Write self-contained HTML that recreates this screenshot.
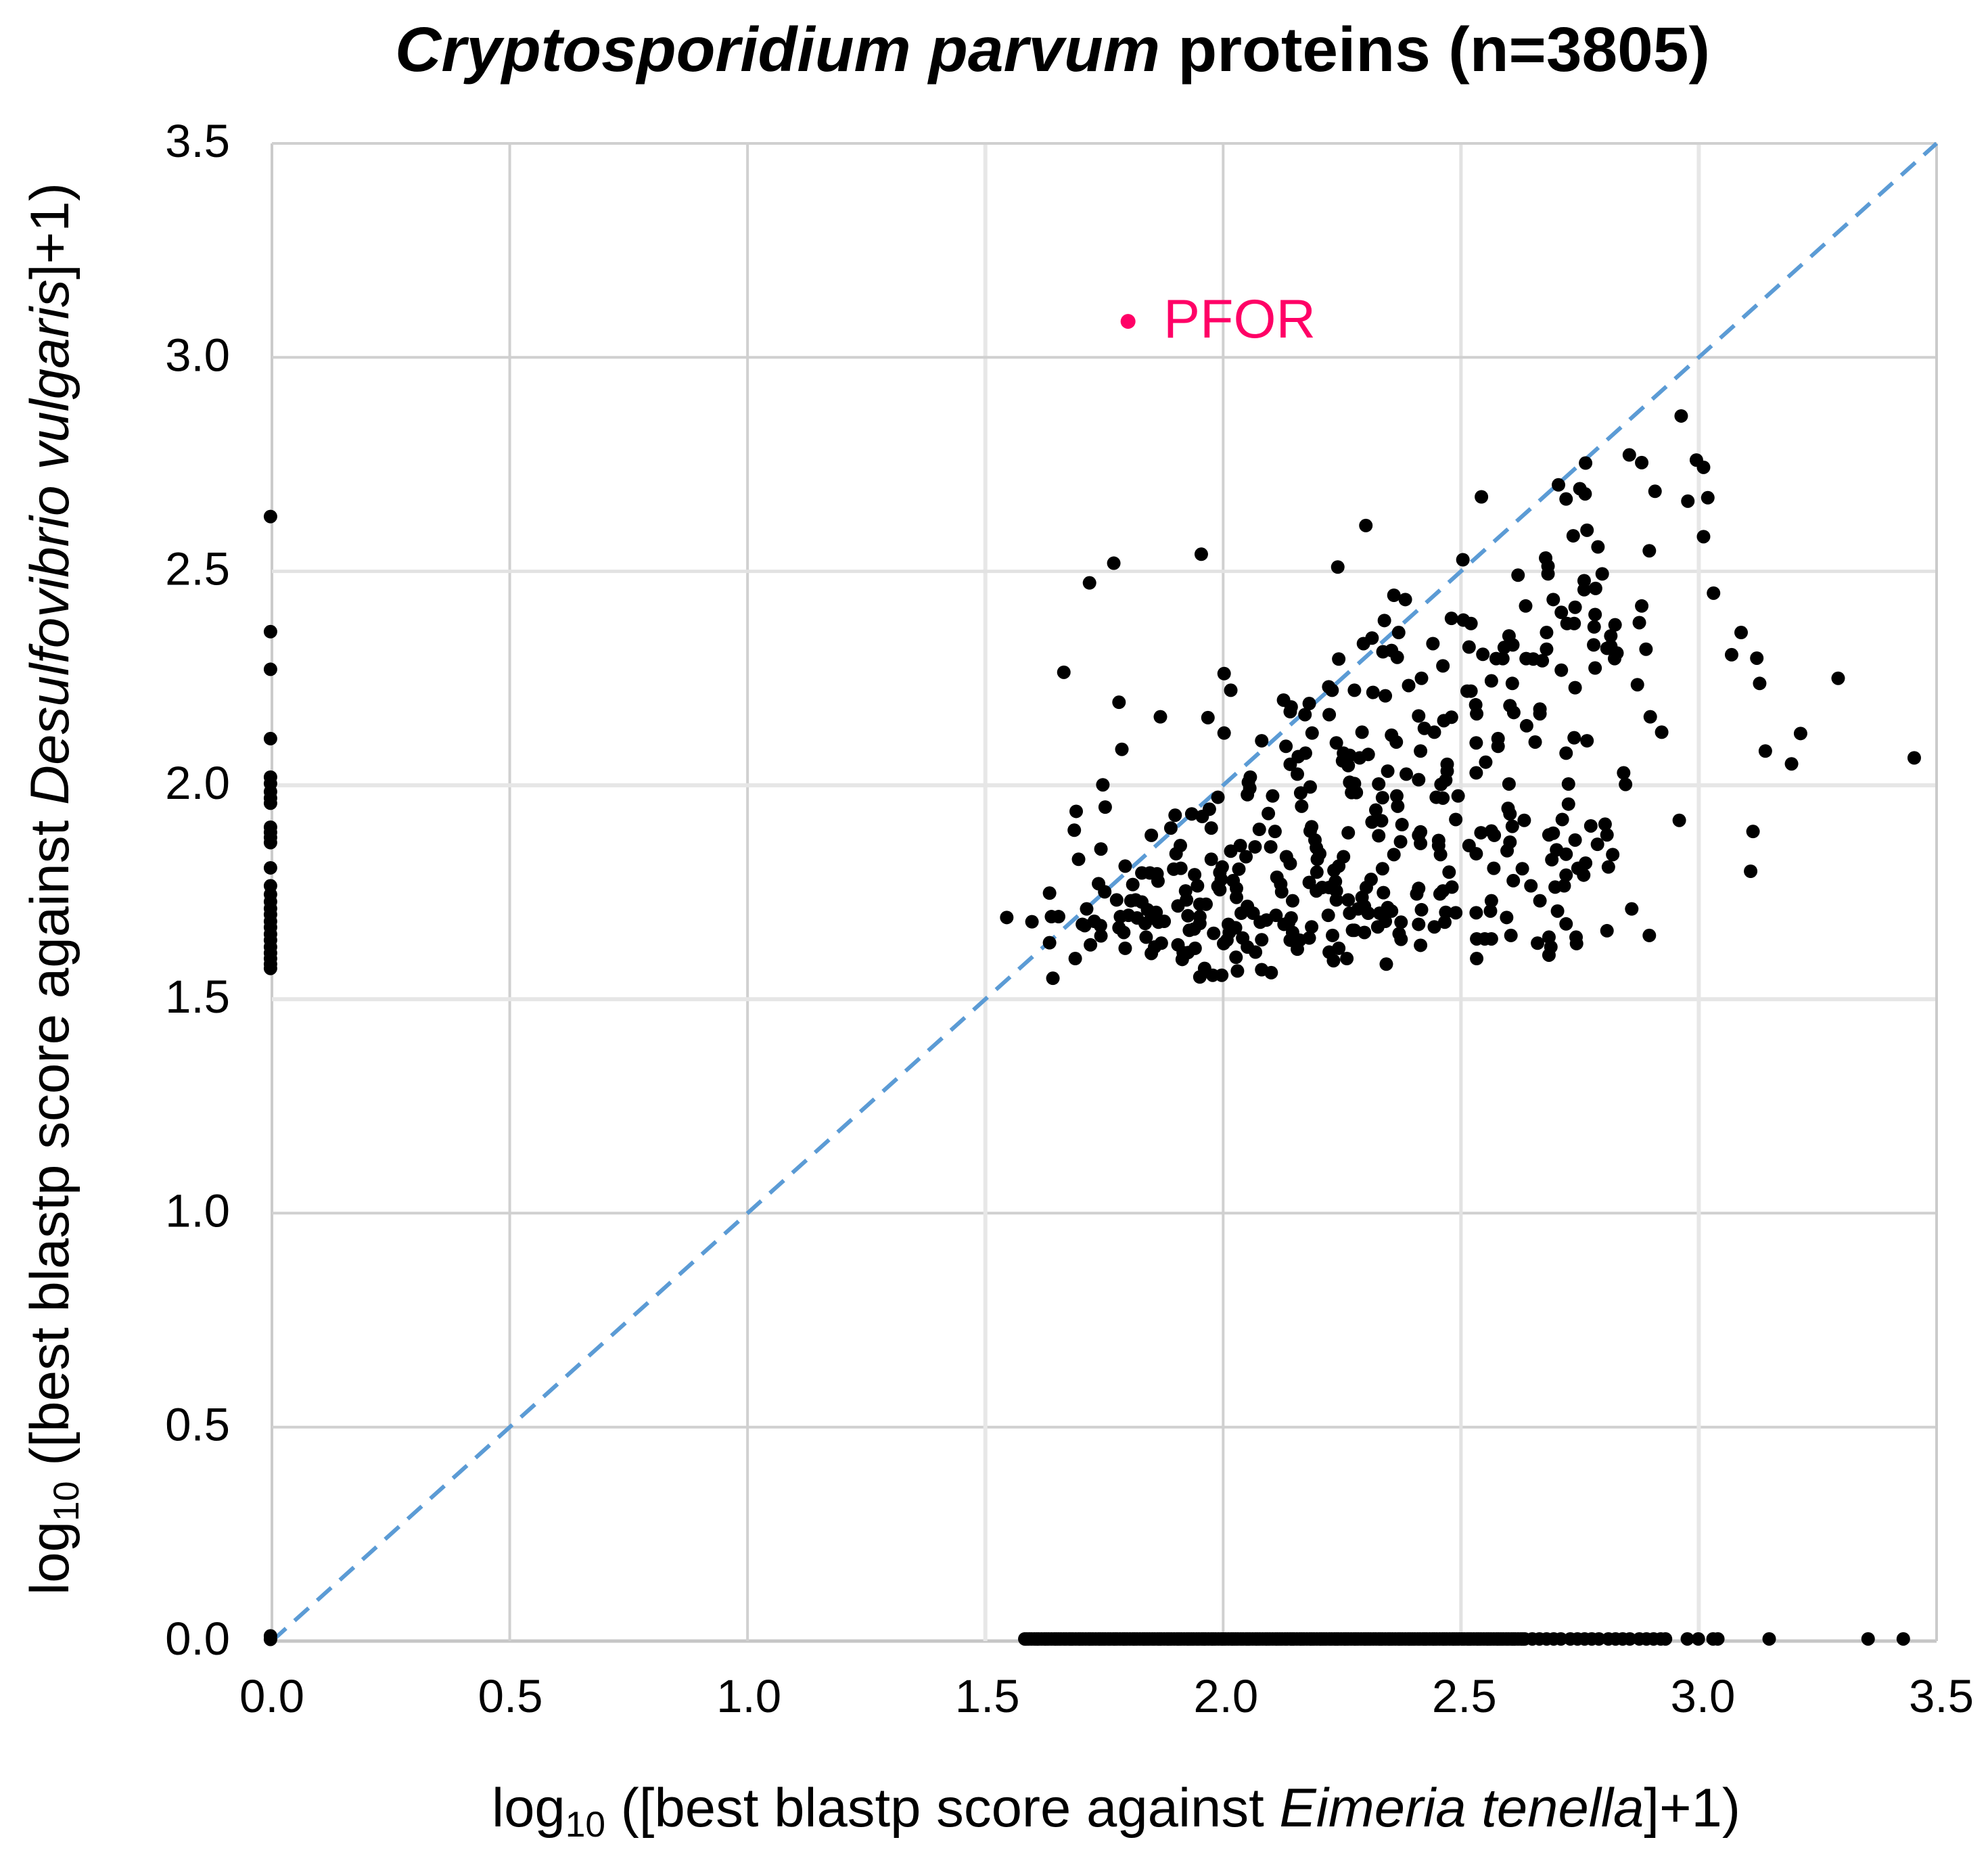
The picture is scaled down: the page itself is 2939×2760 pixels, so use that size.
<!DOCTYPE html>
<html lang="en">
<head>
<meta charset="utf-8">
<title>Cryptosporidium parvum proteins scatter</title>
<style>
html,body{margin:0;padding:0;background:#fff;}
svg{display:block;}
text{font-family:"Liberation Sans",Arial,sans-serif;fill:#000;}
</style>
</head>
<body>
<svg id="chart" xmlns="http://www.w3.org/2000/svg" width="2939" height="2760" viewBox="0 0 2939 2760">
  <rect x="0" y="0" width="2939" height="2760" fill="#ffffff"/>
  <text x="584" y="105" font-size="93" font-weight="700" textLength="1944" lengthAdjust="spacingAndGlyphs"><tspan font-style="italic">Cryptosporidium parvum</tspan> proteins (n=3805)</text>
  <g id="grid"></g>
  <line id="refline" stroke="#5b9bd5" stroke-width="6" stroke-dasharray="28 17"/>
  <g id="ticks"></g>
  <g id="points"></g>
  <circle id="pfor-dot" r="11" fill="#ff0066"/>
  <text x="1720" y="499" font-size="81" style="fill:#ff0066">PFOR</text>
  <text x="727" y="2700" font-size="81" textLength="1846" lengthAdjust="spacingAndGlyphs">log<tspan font-size="53" dy="15">10</tspan><tspan dy="-15"> ([best blastp score against </tspan><tspan font-style="italic">Eimeria tenella</tspan>]+1)</text>
  <text transform="translate(101,2358) rotate(-90)" x="0" y="0" font-size="81" textLength="2088" lengthAdjust="spacingAndGlyphs">log<tspan font-size="53" dy="15">10</tspan><tspan dy="-15"> ([best blastp score against </tspan><tspan font-style="italic">Desulfovibrio vulgaris</tspan>]+1)</text>
</svg>
<script>
var tickValues = [0, 0.5, 1, 1.5, 2, 2.5, 3, 3.5];
var tickLabels = ["0.0", "0.5", "1.0", "1.5", "2.0", "2.5", "3.0", "3.5"];
var identityLine = [0, 3.5];
var pforPoint = [1.80, 3.084];

var eimeriaScore = [
1.868,1.968,2.002,1.787,2.081,2.132,1.747,1.691,1.752,1.687,1.743,1.696,1.635,1.545,1.598,1.639,1.654,1.635,1.689,1.642,
1.721,1.713,1.738,1.751,1.776,1.794,1.849,1.810,1.829,1.846,1.861,1.863,1.899,1.890,1.934,1.956,1.971,1.975,1.989,2.057,
2.053,2.056,2.051,2.104,2.095,2.076,2.109,2.067,2.100,2.036,2.016,2.048,1.975,1.910,1.901,1.896,1.911,1.940,1.946,1.921,
1.923,1.905,1.926,1.951,1.964,1.951,1.951,1.939,1.929,1.998,1.993,1.996,1.989,1.993,2.021,2.033,2.028,2.028,2.051,2.038,
2.063,2.026,2.011,2.078,2.091,2.111,2.008,2.001,2.041,2.051,2.081,2.068,2.027,2.030,2.081,2.101,1.997,1.978,1.961,1.951,
1.980,2.013,1.905,1.916,1.914,1.926,1.941,1.849,1.870,1.856,1.838,1.794,1.791,1.781,1.784,1.801,1.819,1.836,1.841,1.859,
1.849,1.864,1.876,1.816,1.806,1.829,1.709,1.729,1.742,1.743,1.704,2.113,2.121,2.123,2.146,2.133,2.141,2.156,2.141,2.158,
2.173,2.187,2.238,2.253,2.251,2.263,2.266,2.163,2.183,2.165,2.186,2.183,2.193,2.196,2.203,2.198,2.263,2.266,2.270,2.197,
2.253,2.243,2.233,2.236,2.181,2.196,2.208,2.223,2.238,2.238,2.263,2.221,2.266,2.230,2.272,2.243,2.223,2.232,2.260,2.138,
2.128,2.143,2.146,2.141,2.156,2.161,2.181,2.186,2.172,2.141,2.223,
2.963,2.854,2.880,2.995,3.010,2.762,2.705,2.750,2.761,2.721,2.908,2.977,3.019,2.543,2.300,2.765,2.736,2.788,2.896,3.010,
2.504,2.678,2.683,2.683,2.620,2.797,2.759,2.759,2.783,3.031,2.359,2.383,2.694,2.636,2.740,2.880,2.711,2.782,2.780,2.723,
2.738,2.824,2.875,2.339,2.480,2.505,2.521,2.369,2.680,3.089,2.313,2.295,2.441,2.601,2.609,2.591,2.779,2.815,2.815,2.828,
2.807,2.823,2.889,2.680,2.517,2.546,2.574,2.588,2.637,2.652,2.671,2.336,2.354,2.366,3.069,3.122,2.462,2.711,2.782,2.417,
2.390,2.564,2.608,2.871,2.740,3.128,3.293,2.276,2.315,2.341,2.513,2.521,2.531,2.603,2.666,
2.411,2.464,2.480,2.533,2.611,2.666,2.898,2.638,2.922,3.214,2.292,2.354,2.364,2.423,2.444,2.532,2.578,2.578,2.656,2.738,
2.765,2.721,2.415,3.140,3.195,3.453,2.305,2.287,2.552,2.532,2.842,2.471,2.471,2.468,2.458,2.346,2.385,2.411,2.327,2.601,
2.726,2.846,2.276,2.280,2.335,2.365,2.367,2.494,2.448,2.462,2.726,2.599,2.603,2.321,2.313,2.333,2.489,2.376,2.633,2.713,
2.959,2.608,2.773,2.803,2.415,2.411,2.415,2.327,2.542,2.564,2.570,2.685,2.694,3.114,2.807,2.453,2.453,2.373,2.740,2.603,
2.597,2.517,2.532,2.787,2.701,2.721,2.359,2.457,2.819,2.691,2.762,2.746,2.758,2.810,2.335,2.569,2.629,2.475,2.721,3.109,
2.311,2.301,2.481,2.462,2.456,2.610,2.647,2.698,2.717,2.411,2.407,2.337,2.292,2.564,2.666,2.859,2.297,2.284,2.305,2.346,
2.329,2.354,2.417,2.468,2.489,2.532,2.562,2.703,2.596,2.341,2.374,2.411,2.444,2.466,2.721,2.325,2.276,2.297,2.370,2.374,
2.807,2.896,2.605,2.685,2.533,2.550,2.564,2.742,2.743,2.661,2.689,2.685,2.415,2.533,2.343,
1.770,1.954,2.241,1.719,2.243,1.665,2.002,2.016,1.781,2.127,2.143,2.181,2.222,2.229
];

var desulfovibrioScore = [
2.160,2.158,2.122,2.084,2.104,2.091,2.001,1.939,1.949,1.895,1.851,1.827,1.748,1.691,1.681,1.693,1.693,1.632,1.595,1.549,
1.627,1.711,1.770,1.751,1.732,1.811,1.883,1.768,1.795,1.795,1.793,1.776,1.930,1.900,1.933,1.927,1.944,1.900,1.972,2.019,
2.007,1.993,1.978,1.975,1.934,1.897,1.892,1.856,1.856,1.859,1.846,1.833,1.827,1.859,1.840,1.804,1.806,1.791,1.765,1.753,
1.732,1.718,1.695,1.722,1.722,1.693,1.677,1.664,1.661,1.809,1.796,1.780,1.764,1.756,1.777,1.804,1.759,1.738,1.717,1.701,
1.701,1.667,1.675,1.680,1.685,1.696,1.638,1.630,1.643,1.622,1.639,1.610,1.598,1.566,1.569,1.562,1.556,1.556,1.572,1.552,
1.654,1.656,1.627,1.609,1.593,1.609,1.619,1.607,1.631,1.622,1.645,1.619,1.656,1.667,1.693,1.696,1.690,1.677,1.709,1.703,
1.690,1.680,1.682,1.732,1.730,1.727,1.672,1.682,1.672,1.648,1.675,1.785,1.769,1.751,1.730,1.833,1.817,2.026,2.049,2.067,
2.075,2.122,2.099,2.075,2.057,2.046,2.070,1.982,1.996,1.951,1.903,1.893,1.872,1.854,1.840,1.827,1.889,2.007,1.983,1.797,
1.833,1.811,1.801,1.775,1.773,1.753,1.761,1.761,1.753,1.732,1.732,1.696,1.701,1.649,1.661,1.619,1.610,1.590,1.595,1.680,
1.675,1.690,1.656,1.638,1.617,1.638,1.643,1.669,2.165,2.172,2.165,
2.863,2.772,2.754,2.760,2.743,2.753,2.702,2.693,2.681,2.669,2.687,2.664,2.672,2.674,2.607,2.596,2.583,2.557,2.548,2.581,
2.527,2.531,2.512,2.494,2.491,2.494,2.478,2.457,2.460,2.449,2.444,2.434,2.434,2.419,2.416,2.419,2.404,2.399,2.370,2.378,
2.378,2.375,2.380,2.385,2.390,2.386,2.378,2.357,2.357,2.357,2.344,2.331,2.331,2.349,2.328,2.322,2.328,2.349,2.325,2.309,
2.320,2.296,2.318,2.318,2.323,2.306,2.296,2.296,2.296,2.295,2.291,2.312,2.315,2.299,2.305,2.297,2.279,2.269,2.274,2.250,
2.233,2.244,2.238,2.235,2.228,2.238,2.250,2.222,2.217,2.209,2.220,2.220,2.188,2.186,2.178,
2.162,2.151,2.159,2.167,2.170,2.167,2.160,2.139,2.124,2.121,2.124,2.117,2.101,2.133,2.124,2.099,2.109,2.091,2.101,2.111,
2.104,2.075,2.080,2.080,2.050,2.064,2.072,2.064,2.054,2.029,2.029,2.049,2.033,2.012,2.002,2.033,2.026,2.013,2.003,2.003,
2.003,2.002,2.004,1.983,1.971,1.975,1.951,1.975,1.972,1.970,1.956,1.946,1.933,1.942,1.914,1.917,1.920,1.908,1.918,1.920,
1.918,1.904,1.905,1.909,1.891,1.883,1.864,1.882,1.889,1.893,1.883,1.884,1.888,1.892,1.884,1.871,1.859,1.868,1.872,1.867,
1.847,1.859,1.840,1.862,1.849,1.839,1.838,1.838,1.838,1.826,1.818,1.806,1.790,1.809,1.805,1.806,1.805,1.797,1.790,1.799,
1.780,1.761,1.762,1.753,1.746,1.777,1.765,1.762,1.765,1.759,1.746,1.749,1.738,1.730,1.730,1.711,1.717,1.711,1.701,1.714,
1.701,1.706,1.709,1.703,1.702,1.702,1.706,1.706,1.691,1.682,1.680,1.675,1.669,1.680,1.676,1.669,1.661,1.656,1.653,1.640,
1.660,1.649,1.649,1.645,1.641,1.641,1.641,1.645,1.630,1.631,1.622,1.603,1.626,1.595,1.582,
2.519,2.540,2.510,2.473,2.295,2.264,2.261,2.222,2.194,2.199,2.183,2.191,2.230,2.222
];

/* proteins with no Eimeria hit: they sit on the y axis */
var noEimeriaHitX = -0.003;
var noEimeriaHitY = [
2.628,2.359,2.271,2.109,2.019,2.004,1.985,1.970,1.958,1.902,1.890,1.878,1.866,1.807,
1.765,1.745,1.728,1.712,1.698,1.682,1.668,1.652,1.638,1.622,1.608,1.595,1.582,1.572,0.012,0.004
];

/* proteins with no Desulfovibrio hit: they sit on the x axis */
var noDesulfoHitY = 0.005;
var noDesulfoHitX = [
1.583,1.592,1.603,1.612,1.624,1.633,1.645,1.654,1.665,1.676,1.684,1.696,1.705,1.717,1.726,1.738,1.747,1.758,1.769,1.777,
1.789,1.798,1.81,1.819,1.831,1.84,1.851,1.862,1.87,1.882,1.891,1.903,1.912,1.924,1.933,1.944,1.955,1.963,1.975,1.984,
1.996,2.005,2.017,2.026,2.037,2.048,2.056,2.068,2.077,2.089,2.098,2.11,2.119,2.13,2.141,2.149,2.161,2.17,2.182,2.191,
2.203,2.212,2.223,2.234,2.242,2.254,2.263,2.275,2.284,2.296,2.305,2.316,2.327,2.335,2.347,2.356,2.368,2.377,2.389,2.398,
2.409,2.42,2.428,2.44,2.449,2.461,2.47,2.482,2.491,2.502,2.513,2.521,2.533,2.542,2.554,2.563,2.575,2.584,2.595,2.606,
2.614,2.626,2.634,2.65,2.665,2.68,2.695,2.71,2.73,2.745,2.76,2.775,2.79,2.81,2.825,2.84,2.855,2.875,2.89,2.905,2.92,2.93,
2.976,2.999,3.03,3.04,3.148,3.356,3.43
];
var noDesulfoHitXCrowded = [
1.587,1.597,1.608,1.618,1.628,1.639,1.649,1.659,1.67,1.68,1.69,1.7,1.711,1.721,1.732,1.742,1.752,1.763,1.773,1.783,
1.793,1.804,1.814,1.825,1.835,1.845,1.856,1.866,1.876,1.886,1.897,1.907,1.918,1.928,1.938,1.949,1.959,1.969,1.979,1.99,
2.0,2.011,2.021,2.031,2.042,2.052,2.062,2.072,2.083,2.093,2.104,2.114,2.124,2.135,2.145,2.155,2.165,2.176,2.186,2.197,
2.207,2.217,2.228,2.238,2.248,2.258,2.269,2.279,2.29,2.3,2.31,2.321,2.331,2.341,2.351,2.362,2.372,2.383,2.393,2.403,
2.414,2.424,2.434,2.444,2.455,2.465,2.476,2.486,2.496,2.507,2.517,2.527,2.537,2.548,2.558,2.569,2.579,2.589,2.6,2.61,2.62,2.63
];

var SVGNS = "http://www.w3.org/2000/svg";
var plotLeft = 402, plotRight = 2863, plotTop = 212, plotBottom = 2426, axisMax = 3.5;
function xScale(v){ return plotLeft + (plotRight - plotLeft) * v / axisMax; }
function yScale(v){ return plotBottom - (plotBottom - plotTop) * v / axisMax; }

function verticalGridStyle(v){
  if (v === 1.5 || v === 3) return ["#e7e7e7", 6];
  if (v === 2.5) return ["#e2e2e2", 5];
  if (v === 0 || v === 3.5) return ["#cbcbcb", 4];
  return ["#d0d0d0", 4];
}
function horizontalGridStyle(v){
  if (v === 1.5 || v === 2) return ["#e6e6e6", 6];
  if (v === 2.5) return ["#e2e2e2", 5];
  if (v === 0) return ["#c6c6c6", 5];
  return ["#d0d0d0", 4];
}

var gridGroup = document.getElementById("grid");
var tickGroup = document.getElementById("ticks");
var pointGroup = document.getElementById("points");

tickValues.forEach(function(v, i){
  var sv = verticalGridStyle(v);
  var vl = document.createElementNS(SVGNS, "line");
  
  
  vl.setAttribute("x1", xScale(v)); vl.setAttribute("x2", xScale(v));
  vl.setAttribute("y1", plotTop); vl.setAttribute("y2", plotBottom);
  vl.setAttribute("stroke", sv[0]); vl.setAttribute("stroke-width", sv[1]);
  gridGroup.appendChild(vl);

  var sh = horizontalGridStyle(v);
  var hl = document.createElementNS(SVGNS, "line");
  
  
  hl.setAttribute("x1", plotLeft); hl.setAttribute("x2", plotRight);
  hl.setAttribute("y1", yScale(v)); hl.setAttribute("y2", yScale(v));
  hl.setAttribute("stroke", sh[0]); hl.setAttribute("stroke-width", sh[1]);
  gridGroup.appendChild(hl);

  var xt = document.createElementNS(SVGNS, "text");
  
  
  xt.setAttribute("x", xScale(v) + v * 2);
  xt.setAttribute("y", 2531);
  xt.setAttribute("font-size", 69);
  xt.setAttribute("text-anchor", "middle");
  xt.textContent = tickLabels[i];
  tickGroup.appendChild(xt);

  var yt = document.createElementNS(SVGNS, "text");
  
  
  yt.setAttribute("x", 340);
  yt.setAttribute("y", yScale(v) + 20);
  yt.setAttribute("font-size", 69);
  yt.setAttribute("text-anchor", "end");
  yt.textContent = tickLabels[i];
  tickGroup.appendChild(yt);
});

var ref = document.getElementById("refline");
ref.setAttribute("x1", xScale(identityLine[0]));
ref.setAttribute("y1", yScale(identityLine[0]));
ref.setAttribute("x2", xScale(identityLine[1]));
ref.setAttribute("y2", yScale(identityLine[1]));

function addPoint(xv, yv){
  var c = document.createElementNS(SVGNS, "circle");
  
  
  c.setAttribute("cx", xScale(xv));
  c.setAttribute("cy", yScale(yv));
  c.setAttribute("r", 10);
  c.setAttribute("fill", "#000000");
  pointGroup.appendChild(c);
}
eimeriaScore.forEach(function(xv, i){ addPoint(xv, desulfovibrioScore[i]); });
noEimeriaHitY.forEach(function(yv){ addPoint(noEimeriaHitX, yv); });
noDesulfoHitX.forEach(function(xv){ addPoint(xv, noDesulfoHitY); });
noDesulfoHitXCrowded.forEach(function(xv){ addPoint(xv, noDesulfoHitY); });

var pf = document.getElementById("pfor-dot");
pf.setAttribute("cx", xScale(pforPoint[0]));
pf.setAttribute("cy", yScale(pforPoint[1]));
</script>
</body>
</html>
